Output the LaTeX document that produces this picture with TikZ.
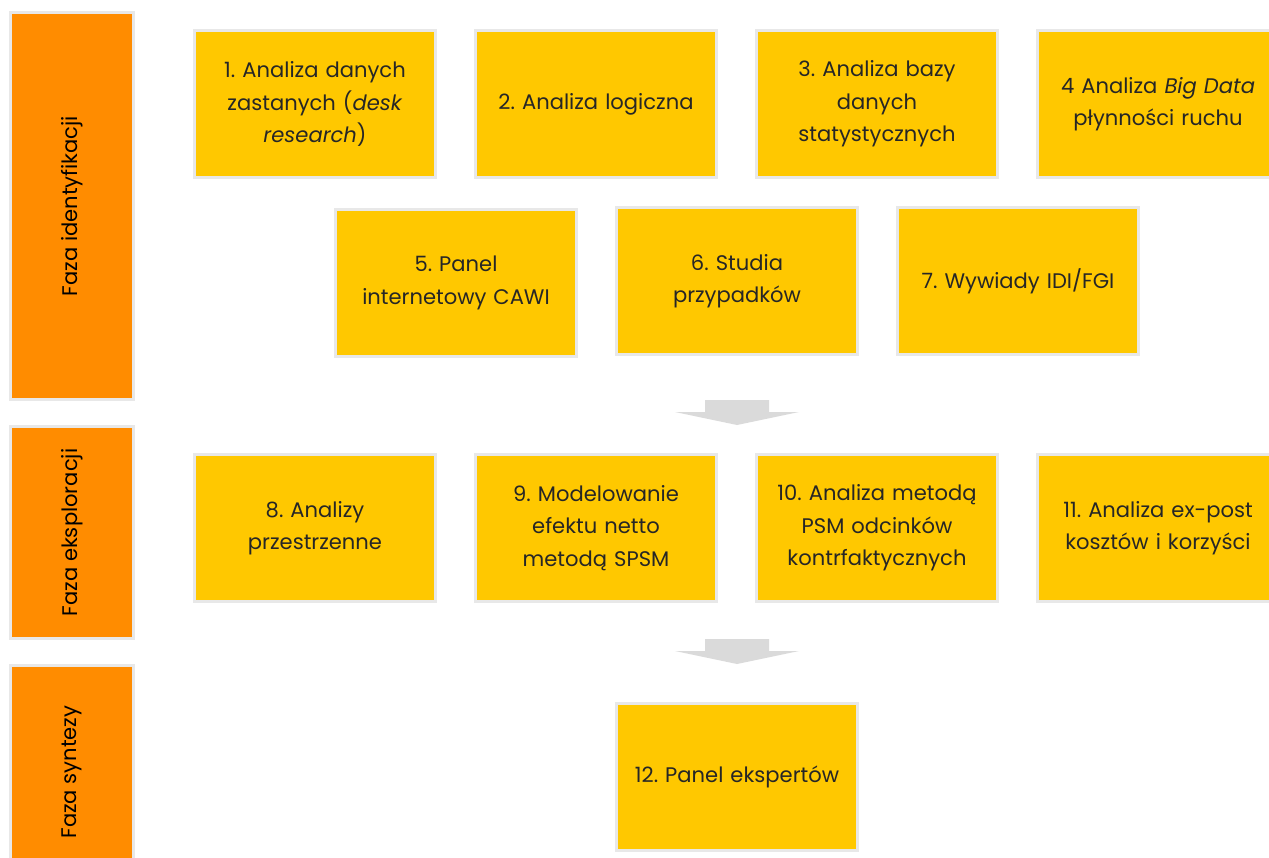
\documentclass[tikz,border=0pt]{standalone}
\usepackage{fontspec}
\setmainfont{Poppins}
\frenchspacing
\definecolor{fazaorange}{HTML}{FF8C00}
\definecolor{metyellow}{HTML}{FFC800}
\definecolor{ramka}{HTML}{E8E8E8}
\definecolor{strzalka}{HTML}{DADADA}
\begin{document}
\begin{tikzpicture}[
  faza/.style = {shape=rectangle, draw=ramka, line width=0.06cm, fill=fazaorange,
    minimum height=2.46cm, rotate=90, font=\fontsize{12}{15}\selectfont},
  metoda/.style = {shape=rectangle, draw=ramka, line width=0.06cm, fill=metyellow,
    minimum width=4.82cm, minimum height=2.94cm, text width=4.2cm, align=center,
    font=\fontsize{12}{18.5}\selectfont, text=black!85}
  ]
  \useasboundingbox (0,0) rectangle (25.38,-17.14);
  % fazy
  \node[faza, minimum width=7.74cm] (f1) at (1.44,-4.12) {Faza identyfikacji};
  \node[faza, minimum width=4.24cm] (f2) at (1.44,-10.65) {Faza eksploracji};
  \node[faza, minimum width=4.26cm] (f3) at (1.44,-15.44) {Faza syntezy};
  % metody
  \node[metoda] (m1) at (6.30,-2.08) {1. Analiza danych\\zastanych (\textit{desk}\\\textit{research})};
  \node[metoda] (m2) at (11.92,-2.08) {2. Analiza logiczna};
  \node[metoda] (m3) at (17.54,-2.08) {3. Analiza bazy\\danych\\statystycznych};
  \node[metoda] (m4) at (23.16,-2.08) {4 Analiza \textit{Big Data}\\płynności ruchu};
  \node[metoda] (m5) at (9.12,-5.66) {5. Panel\\internetowy CAWI};
  \node[metoda] (m6) at (14.74,-5.62) {6. Studia\\przypadków};
  \node[metoda] (m7) at (20.36,-5.62) {7. Wywiady IDI/FGI};
  \node[metoda] (m8) at (6.30,-10.56) {8. Analizy\\przestrzenne};
  \node[metoda] (m9) at (11.92,-10.56) {9. Modelowanie\\efektu netto\\metodą SPSM};
  \node[metoda] (m10) at (17.54,-10.56) {10. Analiza metodą\\PSM odcinków\\kontrfaktycznych};
  \node[metoda] (m11) at (23.16,-10.56) {11. Analiza ex-post\\kosztów i korzyści};
  \node[metoda] (m12) at (14.74,-15.54) {12. Panel ekspertów};
  % strzalki
  \foreach \y in {-8.00,-12.78} {
    \fill[strzalka] (14.10,\y) -- (15.38,\y) -- (15.38,\y-0.24) -- (15.98,\y-0.24)
      -- (14.74,\y-0.50) -- (13.50,\y-0.24) -- (14.10,\y-0.24) -- cycle;
  }
\end{tikzpicture}
\end{document}
